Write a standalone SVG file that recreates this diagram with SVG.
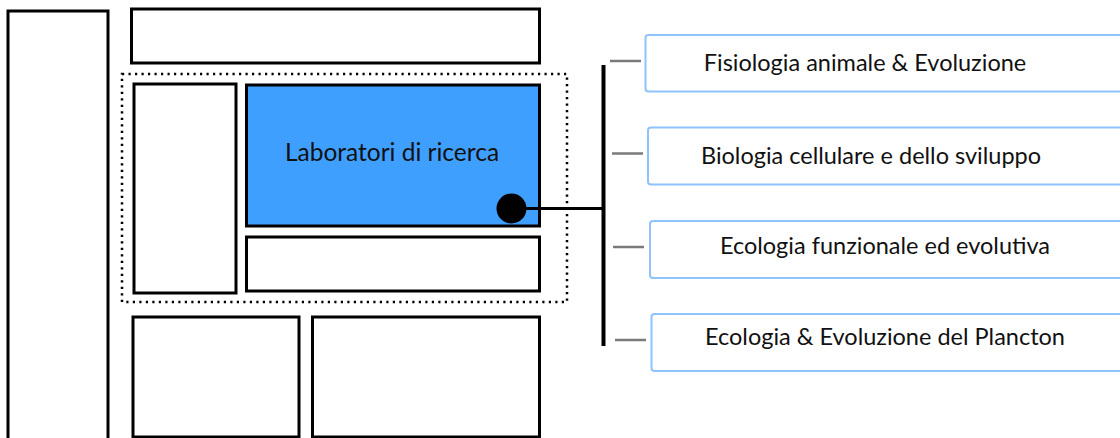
<svg xmlns="http://www.w3.org/2000/svg" width="1120" height="438" viewBox="0 0 1120 438">
  <style>
    .block { fill: #ffffff; stroke: #000000; stroke-width: 3; }
    .lab { fill: #3f9fff; stroke: #000000; stroke-width: 3; }
    .group { fill: none; stroke: #000000; stroke-width: 2.5; stroke-dasharray: 2.2 4.3; }
    .item { fill: #ffffff; stroke: #8ec3fb; stroke-width: 2; }
    .tick { stroke: #7a7a7a; stroke-width: 2.5; }
    .wire { stroke: #000000; stroke-width: 3; fill: none; }
    .bar { stroke: #000000; stroke-width: 4; }
    text { font-family: "Lato", "Open Sans", "DejaVu Sans", sans-serif; fill: #111111; text-anchor: middle; }
    .t { font-size: 23.5px; }
    .big { font-size: 24.5px; }
  </style>

  <!-- page layout blocks -->
  <g id="sidebar"><rect class="block" x="8" y="11" width="100" height="440"/></g>
  <g id="header"><rect class="block" x="131.5" y="9" width="408" height="54"/></g>
  <g id="group-frame"><rect class="group" x="122" y="74" width="445" height="228"/></g>
  <g id="inner-left"><rect class="block" x="134" y="84" width="102" height="209"/></g>
  <g id="labs">
    <rect class="lab" x="246.5" y="85" width="293" height="141"/>
    <text class="big" x="392" y="161">Laboratori di ricerca</text>
  </g>
  <g id="inner-bottom"><rect class="block" x="246.5" y="237" width="293" height="54"/></g>
  <g id="footer-left"><rect class="block" x="133" y="317" width="166" height="120"/></g>
  <g id="footer-right"><rect class="block" x="312.5" y="317" width="227" height="120"/></g>

  <!-- connectors -->
  <g id="connectors">
    <circle cx="511.5" cy="208.5" r="15" fill="#000000"/>
    <line class="wire" x1="511.5" y1="208.5" x2="603" y2="208.5"/>
    <line class="bar" x1="603.5" y1="65" x2="603.5" y2="346"/>
    <line class="tick" x1="610" y1="61" x2="641" y2="61"/>
    <line class="tick" x1="612" y1="153.5" x2="643" y2="153.5"/>
    <line class="tick" x1="613" y1="247" x2="644" y2="247"/>
    <line class="tick" x1="615" y1="340" x2="646" y2="340"/>
  </g>

  <!-- research groups -->
  <g id="lab-1">
    <rect class="item" x="645.5" y="35" width="500" height="56.5" rx="3"/>
    <text class="t" x="865" y="71">Fisiologia animale &amp; Evoluzione</text>
  </g>
  <g id="lab-2">
    <rect class="item" x="648" y="127.5" width="500" height="57" rx="3"/>
    <text class="t" x="871" y="164">Biologia cellulare e dello sviluppo</text>
  </g>
  <g id="lab-3">
    <rect class="item" x="650" y="221" width="500" height="57" rx="3"/>
    <text class="t" x="885" y="254">Ecologia funzionale ed evolutiva</text>
  </g>
  <g id="lab-4">
    <rect class="item" x="651.5" y="314" width="500" height="57" rx="3"/>
    <text class="t" x="885" y="345">Ecologia &amp; Evoluzione del Plancton</text>
  </g>
</svg>
